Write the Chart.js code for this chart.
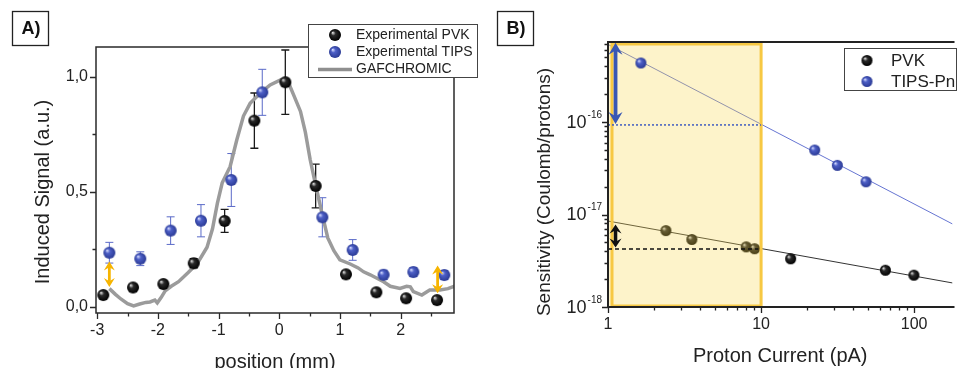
<!DOCTYPE html>
<html>
<head>
<meta charset="utf-8">
<script src="https://cdn.jsdelivr.net/npm/chart.js@4.4.1/dist/chart.umd.min.js"></script>
<style>
  body { margin: 0; background: #fff; }
  #wrap { position: relative; width: 959px; height: 368px; overflow: hidden; }
  canvas { position: absolute; top: 0; }
  #chartA { left: 0; }
  #chartB { left: 480px; }
</style>
</head>
<body>
<div id="wrap">
  <canvas id="chartA" width="480" height="368"></canvas>
  <canvas id="chartB" width="479" height="368"></canvas>
</div>
<script>
// ---- panel A data ----
var pvkX = [-2.9, -2.41, -1.91, -1.41, -0.9, -0.41, 0.1, 0.6, 1.1, 1.6, 2.09, 2.6];
var pvkY = [0.052, 0.085, 0.10, 0.19, 0.374, 0.81, 0.977, 0.526, 0.142, 0.064, 0.038, 0.03];
var pvkErr = [0, 0, 0, 0.02, 0.05, 0.12, 0.14, 0.095, 0.015, 0, 0, 0];

var tipsX = [-2.8, -2.29, -1.79, -1.29, -0.79, -0.28, 0.71, 1.21, 1.72, 2.21, 2.72];
var tipsY = [0.236, 0.21, 0.332, 0.375, 0.552, 0.933, 0.39, 0.248, 0.14, 0.152, 0.139];
var tipsErr = [0.045, 0.03, 0.06, 0.07, 0.115, 0.1, 0.085, 0.045, 0.02, 0.02, 0.02];

var gafX = [-2.8, -2.7, -2.61, -2.5, -2.4, -2.3, -2.2, -2.13, -2.05, -2.01, -1.95, -1.88, -1.78, -1.66, -1.5, -1.35, -1.19, -1.1, -1.02, -0.94, -0.81, -0.7, -0.59, -0.48, -0.31, -0.15, 0.02, 0.08, 0.16, 0.24, 0.35, 0.43, 0.51, 0.6, 0.71, 0.8, 0.9, 1.0, 1.17, 1.3, 1.39, 1.5, 1.61, 1.72, 1.83, 1.99, 2.1, 2.16, 2.21, 2.35, 2.48, 2.65, 2.78, 2.9];
var gafY = [0.08, 0.055, 0.035, 0.015, 0.005, 0.013, 0.02, 0.022, 0.03, 0.018, 0.04, 0.07, 0.09, 0.11, 0.15, 0.19, 0.26, 0.34, 0.45, 0.54, 0.61, 0.726, 0.83, 0.885, 0.93, 0.965, 0.987, 0.98, 0.97, 0.92, 0.85, 0.76, 0.64, 0.53, 0.40, 0.30, 0.245, 0.205, 0.187, 0.17, 0.153, 0.14, 0.125, 0.11, 0.09, 0.081, 0.09, 0.088, 0.067, 0.052, 0.074, 0.074, 0.08, 0.092];

var xTicksA = [-3, -2, -1, 0, 1, 2];
var yTicksA = [0, 0.5, 1.0];
var orangeArrows = [[-2.8, 0.198, 0.087], [2.61, 0.18, 0.06]];

// ---- panel B data ----
var pvkCur = [2.39, 3.53, 8.0, 9.07, 15.6, 64.9, 99.6];
var pvkSens = [6.7e-18, 5.37e-18, 4.47e-18, 4.27e-18, 3.32e-18, 2.5e-18, 2.21e-18];
var tipsCur = [1.64, 22.4, 31.5, 48.5];
var tipsSens = [4.35e-16, 4.98e-17, 3.4e-17, 2.26e-17];
var pvkFitX = [1, 178];
var pvkFitY = [8.5e-18, 1.82e-18];
var tipsFitX = [1, 178];
var tipsFitY = [6.9e-16, 7.9e-18];

var xTicksB = [1, 10, 100];
var yTicksB = [1e-18, 1e-17, 1e-16];

Chart.defaults.font.family = "'Liberation Sans', Arial, sans-serif";
Chart.defaults.color = '#222';
var FONT = "'Liberation Sans', Arial, sans-serif";

function sphere(r, light, mid, dark) {
  var c = document.createElement('canvas');
  c.width = c.height = r * 2 + 2;
  var g = c.getContext('2d');
  var cx = r + 1, cy = r + 1;
  var grad = g.createRadialGradient(cx - r * 0.4, cy - r * 0.4, r * 0.05, cx, cy, r);
  grad.addColorStop(0, light);
  grad.addColorStop(0.35, mid);
  grad.addColorStop(1, dark);
  g.fillStyle = grad;
  g.beginPath();
  g.arc(cx, cy, r, 0, Math.PI * 2);
  g.fill();
  return c;
}

var blackBallA = sphere(6, '#e0e0e0', '#2a2a2a', '#000');
var blueBallA = sphere(6, '#d6dcff', '#4d5fc6', '#2a3a95');
var blackBallB = sphere(5.5, '#e0e0e0', '#2a2a2a', '#000');
var blueBallB = sphere(5.5, '#d6dcff', '#4d5fc6', '#2a3a95');

function pts(xs, ys) {
  return xs.map(function (x, i) { return { x: x, y: ys[i] }; });
}

function vArrow(ctx, x, yTop, yBot, color, lw, hw, hh) {
  ctx.save();
  ctx.strokeStyle = color;
  ctx.fillStyle = color;
  ctx.lineWidth = lw;
  ctx.beginPath();
  ctx.moveTo(x, yTop + hh * 0.6);
  ctx.lineTo(x, yBot - hh * 0.6);
  ctx.stroke();
  ctx.beginPath();
  ctx.moveTo(x, yTop);
  ctx.lineTo(x + hw / 2, yTop + hh);
  ctx.lineTo(x, yTop + hh * 0.65);
  ctx.lineTo(x - hw / 2, yTop + hh);
  ctx.closePath();
  ctx.fill();
  ctx.beginPath();
  ctx.moveTo(x, yBot);
  ctx.lineTo(x + hw / 2, yBot - hh);
  ctx.lineTo(x, yBot - hh * 0.65);
  ctx.lineTo(x - hw / 2, yBot - hh);
  ctx.closePath();
  ctx.fill();
  ctx.restore();
}

function errorBars(ctx, xs, ys, X, Y, E, color, lw, cap) {
  ctx.save();
  ctx.strokeStyle = color;
  ctx.lineWidth = lw;
  for (var i = 0; i < X.length; i++) {
    if (!E[i]) continue;
    var px = xs.getPixelForValue(X[i]);
    var p1 = ys.getPixelForValue(Y[i] + E[i]);
    var p2 = ys.getPixelForValue(Y[i] - E[i]);
    ctx.beginPath();
    ctx.moveTo(px, p1); ctx.lineTo(px, p2);
    ctx.moveTo(px - cap, p1); ctx.lineTo(px + cap, p1);
    ctx.moveTo(px - cap, p2); ctx.lineTo(px + cap, p2);
    ctx.stroke();
  }
  ctx.restore();
}

function tickMarks(ctx, chart, minorX, minorY, color, lw) {
  var a = chart.chartArea, xs = chart.scales.x, ys = chart.scales.y;
  ctx.save();
  ctx.strokeStyle = color;
  ctx.lineWidth = lw;
  ctx.beginPath();
  xs.ticks.forEach(function (t) {
    var p = Math.round(xs.getPixelForValue(t.value)) + 0.5;
    ctx.moveTo(p, a.bottom); ctx.lineTo(p, a.bottom + 6);
  });
  minorX.forEach(function (v) {
    var p = Math.round(xs.getPixelForValue(v)) + 0.5;
    ctx.moveTo(p, a.bottom); ctx.lineTo(p, a.bottom + 3.5);
  });
  ys.ticks.forEach(function (t) {
    var p = Math.round(ys.getPixelForValue(t.value)) + 0.5;
    ctx.moveTo(a.left, p); ctx.lineTo(a.left - 6, p);
  });
  minorY.forEach(function (v) {
    var p = Math.round(ys.getPixelForValue(v)) + 0.5;
    ctx.moveTo(a.left, p); ctx.lineTo(a.left - 3.5, p);
  });
  ctx.stroke();
  ctx.restore();
}

function boxLabel(ctx, text, x, y, w, h) {
  ctx.save();
  ctx.strokeStyle = '#222';
  ctx.lineWidth = 1.3;
  ctx.strokeRect(x + 0.5, y + 0.5, w, h);
  ctx.fillStyle = '#111';
  ctx.font = 'bold 18px ' + FONT;
  ctx.textAlign = 'center';
  ctx.textBaseline = 'middle';
  ctx.fillText(text, x + w / 2 + 1, y + h / 2 + 1);
  ctx.restore();
}

function yTitle(ctx, text, x, y, size) {
  ctx.save();
  ctx.translate(x, y);
  ctx.rotate(-Math.PI / 2);
  ctx.fillStyle = '#222';
  ctx.font = size + 'px ' + FONT;
  ctx.textAlign = 'center';
  ctx.textBaseline = 'middle';
  ctx.fillText(text, 0, 0);
  ctx.restore();
}

var panelA = {
  id: 'panelA',
  beforeDatasetsDraw: function (chart) {
    var ctx = chart.ctx;
    errorBars(ctx, chart.scales.x, chart.scales.y, pvkX, pvkY, pvkErr, '#1a1a1a', 1.3, 4);
    errorBars(ctx, chart.scales.x, chart.scales.y, tipsX, tipsY, tipsErr, '#5a6ac8', 1, 4);
  },
  afterDatasetsDraw: function (chart) {
    var ctx = chart.ctx, xs = chart.scales.x, ys = chart.scales.y;
    orangeArrows.forEach(function (ar) {
      vArrow(ctx, xs.getPixelForValue(ar[0]), ys.getPixelForValue(ar[1]), ys.getPixelForValue(ar[2]), '#f6b400', 2.8, 11, 9);
    });
  },
  afterDraw: function (chart) {
    var ctx = chart.ctx, a = chart.chartArea;
    ctx.save();
    ctx.strokeStyle = '#2a2a2a';
    ctx.lineWidth = 1.5;
    ctx.strokeRect(a.left, a.top, a.right - a.left, a.bottom - a.top);
    ctx.restore();
    var minorX = [-2.5, -1.5, -0.5, 0.5, 1.5, 2.5];
    tickMarks(ctx, chart, minorX, [0.25, 0.75], '#2a2a2a', 1.3);
    yTitle(ctx, 'Induced Signal (a.u.)', 43, 192, 20);
    boxLabel(ctx, 'A)', 12, 11, 36, 34);

    // legend
    ctx.save();
    ctx.fillStyle = '#fff';
    ctx.fillRect(308, 24, 170, 54);
    ctx.strokeStyle = '#444';
    ctx.lineWidth = 1;
    ctx.strokeRect(308.5, 24.5, 169, 53);
    var ds = chart.data.datasets;
    ctx.drawImage(blackBallA, 335 - blackBallA.width / 2, 35 - blackBallA.height / 2);
    ctx.drawImage(blueBallA, 335 - blueBallA.width / 2, 52 - blueBallA.height / 2);
    ctx.strokeStyle = '#8f8f8f';
    ctx.lineWidth = 3.5;
    ctx.beginPath(); ctx.moveTo(318, 69.5); ctx.lineTo(352, 69.5); ctx.stroke();
    ctx.fillStyle = '#222';
    ctx.font = '14px ' + FONT;
    ctx.textBaseline = 'middle';
    ctx.fillText(ds[0].label, 356, 35);
    ctx.fillText(ds[1].label, 356, 52);
    ctx.fillText(ds[2].label, 356, 69.5);
    ctx.restore();
  }
};

new Chart(document.getElementById('chartA'), {
  type: 'scatter',
  data: {
    datasets: [
      { label: 'Experimental PVK', data: pts(pvkX, pvkY), pointStyle: blackBallA, pointRadius: 6, order: 2 },
      { label: 'Experimental TIPS', data: pts(tipsX, tipsY), pointStyle: blueBallA, pointRadius: 6, order: 1 },
      { label: 'GAFCHROMIC', data: pts(gafX, gafY), showLine: true, pointRadius: 0, borderColor: '#9b9b9b', borderWidth: 3.5, tension: 0, order: 3 }
    ]
  },
  options: {
    responsive: false,
    animation: false,
    devicePixelRatio: 1,
    layout: { padding: { top: 47, right: 26, left: 0, bottom: 0 } },
    plugins: { legend: { display: false }, tooltip: { enabled: false } },
    scales: {
      x: {
        type: 'linear', min: -3.02, max: 2.88,
        afterBuildTicks: function (s) { s.ticks = xTicksA.map(function (v) { return { value: v }; }); },
        afterFit: function (s) { s.height = 55; },
        grid: { display: false, drawTicks: false },
        border: { display: false },
        ticks: { padding: 8, font: { size: 16 }, maxRotation: 0, autoSkip: false, callback: function (v) { return String(v); } },
        title: { display: true, text: 'position (mm)', font: { size: 20 }, padding: { top: 0, bottom: -6 } }
      },
      y: {
        type: 'linear', min: -0.026, max: 1.13,
        afterBuildTicks: function (s) { s.ticks = yTicksA.map(function (v) { return { value: v }; }); },
        afterFit: function (s) { s.width = 96; },
        grid: { display: false, drawTicks: false },
        border: { display: false },
        ticks: { padding: 8, font: { size: 16 }, autoSkip: false, callback: function (v) { return v.toFixed(1).replace('.', ','); } }
      }
    }
  },
  plugins: [panelA]
});

var panelB = {
  id: 'panelB',
  // yellow window goes over the fits and PVK points, under the TIPS points
  beforeDatasetDraw: function (chart, args) {
    if (args.index !== 1) return;
    var ctx = chart.ctx, a = chart.chartArea, xs = chart.scales.x;
    var x1 = xs.getPixelForValue(1), x10 = xs.getPixelForValue(10);
    ctx.save();
    ctx.fillStyle = 'rgba(250, 214, 80, 0.3)';
    ctx.fillRect(x1, a.top, x10 - x1 + 1, a.bottom - a.top);
    ctx.strokeStyle = '#f7c843';
    ctx.lineWidth = 3;
    ctx.strokeRect(x1 + 4, a.top + 2, x10 - x1 - 4, a.bottom - a.top - 3);
    ctx.restore();
  },
  afterDatasetsDraw: function (chart) {
    var ctx = chart.ctx, xs = chart.scales.x, ys = chart.scales.y;
    var x1 = xs.getPixelForValue(1), x10 = xs.getPixelForValue(10);
    ctx.save();
    ctx.lineWidth = 1.5;
    ctx.strokeStyle = '#3f5cc0';
    ctx.setLineDash([2, 2]);
    var yb = ys.getPixelForValue(9.3e-17);
    ctx.beginPath(); ctx.moveTo(x1, yb); ctx.lineTo(x10, yb); ctx.stroke();
    ctx.strokeStyle = '#111';
    ctx.setLineDash([4, 3]);
    var yk = ys.getPixelForValue(4.25e-18);
    ctx.beginPath(); ctx.moveTo(x1, yk); ctx.lineTo(xs.getPixelForValue(9.6), yk); ctx.stroke();
    ctx.restore();

    var xa = xs.getPixelForValue(1.12);
    vArrow(ctx, xa, ys.getPixelForValue(7.2e-16), ys.getPixelForValue(9.5e-17), '#3857b4', 3.8, 14, 12);
    vArrow(ctx, xa, ys.getPixelForValue(7.8e-18), ys.getPixelForValue(4.4e-18), '#111', 3.5, 12, 9);
  },
  afterDraw: function (chart) {
    var ctx = chart.ctx, a = chart.chartArea, ys = chart.scales.y;
    ctx.save();
    ctx.strokeStyle = '#222';
    ctx.lineWidth = 2;
    ctx.beginPath();
    ctx.moveTo(a.right + 2, a.top); ctx.lineTo(a.left, a.top);
    ctx.lineTo(a.left, a.bottom); ctx.lineTo(a.right + 2, a.bottom);
    ctx.stroke();
    ctx.restore();
    var minorX = [], minorY = [];
    [1, 10].forEach(function (d) { for (var k = 2; k <= 9; k++) minorX.push(k * d); });
    [1e-18, 1e-17, 1e-16].forEach(function (d) { for (var k = 2; k <= 9; k++) if (k * d < 7.3e-16) minorY.push(k * d); });
    tickMarks(ctx, chart, minorX, minorY, '#222', 1.3);

    // power-of-ten labels with a raised exponent
    ctx.save();
    ctx.fillStyle = '#222';
    ctx.textBaseline = 'middle';
    ctx.textAlign = 'right';
    ys.ticks.forEach(function (t) {
      var y = ys.getPixelForValue(t.value);
      var exp = String(Math.round(Math.log10(t.value)));
      var right = a.left - 6;
      ctx.font = '10px ' + FONT;
      var w = ctx.measureText(exp).width;
      ctx.fillText(exp, right, y - 7);
      ctx.font = '18px ' + FONT;
      ctx.fillText('10', right - w - 1, y + 1);
    });
    ctx.restore();

    yTitle(ctx, 'Sensitivity (Coulomb/protons)', 65, 192, 19);
    boxLabel(ctx, 'B)', 17, 11, 36, 34);

    // legend
    ctx.save();
    ctx.fillStyle = '#fff';
    ctx.fillRect(364, 48, 113, 43);
    ctx.strokeStyle = '#444';
    ctx.lineWidth = 1;
    ctx.strokeRect(364.5, 48.5, 112, 42);
    var ds = chart.data.datasets;
    ctx.drawImage(blackBallB, 387 - blackBallB.width / 2, 60.5 - blackBallB.height / 2);
    ctx.drawImage(blueBallB, 387 - blueBallB.width / 2, 81.5 - blueBallB.height / 2);
    ctx.fillStyle = '#222';
    ctx.font = '17px ' + FONT;
    ctx.textBaseline = 'middle';
    ctx.fillText(ds[0].label, 411, 61);
    ctx.fillText(ds[1].label, 411, 82);
    ctx.restore();
  }
};

new Chart(document.getElementById('chartB'), {
  type: 'scatter',
  data: {
    datasets: [
      { label: 'PVK', data: pts(pvkCur, pvkSens), pointStyle: blackBallB, pointRadius: 5.5, order: 2 },
      { label: 'TIPS-Pn', data: pts(tipsCur, tipsSens), pointStyle: blueBallB, pointRadius: 5.5, order: 1 },
      { label: 'PVK fit', data: pts(pvkFitX, pvkFitY), showLine: true, pointRadius: 0, borderColor: '#333', borderWidth: 1, order: 3 },
      { label: 'TIPS fit', data: pts(tipsFitX, tipsFitY), showLine: true, pointRadius: 0, borderColor: '#6675d2', borderWidth: 1, order: 3 }
    ]
  },
  options: {
    responsive: false,
    animation: false,
    devicePixelRatio: 1,
    layout: { padding: { top: 42, right: 0, left: 0, bottom: 0 } },
    plugins: { legend: { display: false }, tooltip: { enabled: false } },
    scales: {
      x: {
        type: 'logarithmic', min: 1, max: 178,
        afterBuildTicks: function (s) { s.ticks = xTicksB.map(function (v) { return { value: v }; }); },
        afterFit: function (s) { s.height = 61; },
        grid: { display: false, drawTicks: false },
        border: { display: false },
        ticks: { padding: 8, font: { size: 16 }, maxRotation: 0, autoSkip: false, callback: function (v) { return String(v); } },
        title: { display: true, text: 'Proton Current (pA)', font: { size: 20 }, padding: { top: 0, bottom: 0 } }
      },
      y: {
        type: 'logarithmic', min: 1e-18, max: 7.33e-16,
        afterBuildTicks: function (s) { s.ticks = yTicksB.map(function (v) { return { value: v }; }); },
        afterFit: function (s) { s.width = 128; },
        grid: { display: false, drawTicks: false },
        border: { display: false },
        ticks: { display: false }
      }
    }
  },
  plugins: [panelB]
});
</script>
</body>
</html>
